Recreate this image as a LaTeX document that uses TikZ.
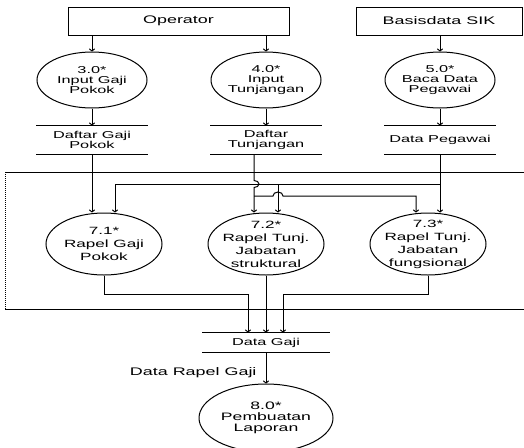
\documentclass[tikz,border=0pt]{standalone}
\usepackage{fontspec}
\setmainfont{Liberation Sans}[FakeStretch=1.63]
\usetikzlibrary{
  arrows.meta,
  shapes.geometric,
  positioning,
  calc
}
\tikzset{
  dfdbase/.style={inner sep=0pt, align=center, line width=1pt},
  entity/.style={dfdbase, draw, minimum height=28, font=\fontsize{11}{12}\selectfont},
  proc/.style={dfdbase, draw, ellipse, minimum width=110, minimum height=56, font=\fontsize{10}{10}\selectfont},
  subproc/.style={dfdbase, draw, ellipse, minimum width=116, minimum height=62},
  subtext/.style={align=center, inner sep=0pt, font=\fontsize{10.5}{13}\selectfont},
  bigproc/.style={proc, minimum width=134, minimum height=68, font=\fontsize{10.8}{11}\selectfont},
  store/.style={dfdbase, minimum width=111, minimum height=28, font=\fontsize{10}{9.5}\selectfont},
  storeline/.style={line width=1pt},
  dflow/.style={-{To[length=3pt,width=6pt]}, line width=1pt},
  flowtag/.style={font=\fontsize{11}{12}\selectfont, inner sep=1pt}
}
\begin{document}
\begin{tikzpicture}[x=1pt,y=-1pt]
  \useasboundingbox (0,0) rectangle (524,447);
  \node[entity, minimum width=221] (opr) at (178.5,21) {Operator};
  \node[entity, minimum width=166] (sik) at (439,21) {Basisdata SIK};
  \foreach \n/\x/\t/\s in {3/92/{3.0*\\Input Gaji\\Pokok}/{Daftar Gaji\\Pokok},
                           4/266/{4.0*\\Input\\Tunjangan}/{Daftar\\Tunjangan},
                           5/440/{5.0*\\Baca Data\\Pegawai}/{Data Pegawai}}{
    \node[proc] (p\n) at (\x,80) {\t};
    \node[store] (st\n) at (\x,140) {\s};
    \draw[dflow] (p\n.south) -- (st\n.north);
  }
  \draw[dflow] (opr.south -| p3.north) -- (p3.north);
  \draw[dflow] (opr.south -| p4.north) -- (p4.north);
  \draw[dflow] (sik.south -| p5.north) -- (p5.north);

  \draw[line width=1pt] (5,172) -- (524,172) (5,309) -- (524,309);
  \draw[line width=1pt, densely dotted] (5,172) -- (5,309);

  \node[subproc, label={[subtext]center:{7.1*\\Rapel Gaji\\Pokok}}] (r1) at (104,244) {};
  \node[subproc, label={[subtext]center:{7.2*\\Rapel Tunj.\\Jabatan\\struktural}}] (r2) at (266,244) {};
  \node[subproc, label={[subtext]center:{7.3*\\Rapel Tunj.\\Jabatan\\fungsional}}] (r3) at (428,244) {};

  \node[store, minimum width=127, minimum height=19] (dg) at (266,342.5) {Data Gaji};
  \node[bigproc] (p8) at (266,418) {8.0*\\Pembuatan\\Laporan};

  \foreach \s in {st3,st4,st5,dg}{
    \draw[storeline] (\s.north west) -- (\s.north east) (\s.south west) -- (\s.south east);
  }

  \coordinate (d4) at ([xshift=-12pt]st4.south);
  \coordinate (j5) at (st5.south |- 0,184);
  \draw[dflow] (st3.south) -- (st3.south |- r1.north);
  \draw[dflow] (st5.south) -- (st5.south |- r3.north);
  \draw[dflow] (d4) -- (d4 |- 0,180.5) arc[start angle=-90, end angle=90, x radius=5, y radius=3.5] -- (d4 |- r2.north);
  \draw[dflow] (d4 |- 0,196) -- (273,196) arc[start angle=180, end angle=360, x radius=5, y radius=4] -- (416,196) -- (416,0 |- r3.north);
  \draw[dflow] (j5) -- (115,184) -- (115,0 |- r1.north);
  \draw[dflow] (278,184) -- (278,0 |- r2.north);

  \draw[dflow] (r1.south) -- (r1.south |- 0,294) -- (248,294) -- (248,0 |- dg.north);
  \draw[dflow] (r2.south) -- (dg.north);
  \draw[dflow] (r3.south) -- (r3.south |- 0,294) -- (283,294) -- (283,0 |- dg.north);
  \draw[dflow] (dg.south) -- (p8.north) node[flowtag, pos=0.66, left=8pt] {Data Rapel Gaji};
\end{tikzpicture}
\end{document}
